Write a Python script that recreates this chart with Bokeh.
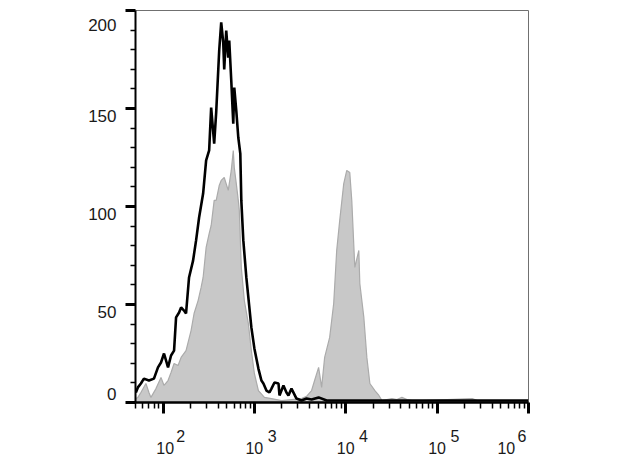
from bokeh.plotting import figure
from bokeh.models import FixedTicker, Range1d
from bokeh.embed import file_html
from bokeh.resources import INLINE

# ---------------- data ----------------
# log10 fluorescence intensity and event counts
black_log_intensity = [1.703, 1.725, 1.758, 1.791, 1.846, 1.901, 1.945, 1.978, 2.011, 2.055,
                       2.088, 2.121, 2.143, 2.176, 2.198, 2.230, 2.252, 2.285, 2.329, 2.362,
                       2.395, 2.439, 2.472, 2.505, 2.527, 2.560, 2.582, 2.615, 2.637, 2.659,
                       2.670, 2.692, 2.714, 2.725, 2.747, 2.769, 2.780, 2.802, 2.824, 2.846,
                       2.857, 2.879, 2.912, 2.945, 2.967, 3.000, 3.044, 3.077, 3.099, 3.132,
                       3.165, 3.187, 3.220, 3.264, 3.275, 3.318, 3.351, 3.373, 3.406, 3.461,
                       3.516, 3.571, 3.626, 3.703, 3.791, 3.95, 4.2, 4.5, 4.8, 5.2, 5.6, 6.0]
black_counts = [5.1, 7.7, 9.7, 12.2, 11.2, 12.2, 17.9, 20.4, 25.0, 17.9,
                24.0, 26.5, 43.4, 45.9, 48.5, 46.9, 45.4, 63.8, 72.4, 82.7,
                94.4, 106.6, 123.5, 128.6, 150.5, 132.1, 148.0, 179.6, 193.9, 183.7,
                169.9, 189.8, 176.0, 184.7, 164.3, 142.3, 160.7, 148.9, 135.2, 127.0,
                103.1, 82.7, 63.8, 48.5, 38.3, 27.6, 17.3, 11.2, 9.7, 6.1,
                5.1, 7.1, 10.2, 9.7, 3.6, 8.7, 5.1, 3.6, 7.1, 2.0,
                1.0, 2.0, 1.5, 2.6, 1.0, 1.0, 1.0, 1.0, 1.0, 1.0, 1.0, 1.0]

gray_log_intensity = [1.703, 1.725, 1.758, 1.813, 1.846, 1.868, 1.923, 1.978, 2.011, 2.055,
                      2.088, 2.121, 2.165, 2.198, 2.252, 2.307, 2.340, 2.384, 2.417, 2.439,
                      2.472, 2.505, 2.527, 2.560, 2.582, 2.615, 2.637, 2.670, 2.714, 2.747,
                      2.769, 2.780, 2.802, 2.824, 2.835, 2.857, 2.890, 2.934, 2.967, 3.000,
                      3.044, 3.110, 3.187, 3.297, 3.406, 3.516, 3.571, 3.626, 3.659, 3.703,
                      3.736, 3.769, 3.824, 3.868, 3.901, 3.934, 3.978, 4.011, 4.044, 4.066,
                      4.099, 4.143, 4.154, 4.198, 4.231, 4.264, 4.319, 4.363, 4.396, 4.505,
                      4.560, 4.615, 4.670, 4.725, 4.835, 5.384, 5.440, 6.0]
gray_counts = [2.0, 2.6, 5.1, 9.7, 5.1, 2.6, 7.1, 12.8, 8.7, 11.2,
               15.3, 19.9, 18.9, 23.0, 26.5, 36.7, 45.4, 52.0, 58.7, 63.8,
               79.1, 86.2, 90.3, 103.1, 103.1, 110.7, 113.3, 114.8, 108.2, 118.4,
               128.6, 119.9, 111.7, 103.1, 98.0, 68.9, 52.0, 40.3, 26.5, 14.8,
               6.1, 2.6, 2.0, 1.0, 1.5, 2.0, 3.1, 6.1, 11.2, 17.9,
               7.7, 23.0, 33.2, 50.5, 77.6, 92.9, 111.7, 118.4, 117.3, 103.1,
               68.9, 77.6, 60.7, 43.4, 23.0, 9.7, 6.1, 3.6, 1.0, 2.0,
               1.5, 2.6, 1.5, 1.0, 1.0, 2.0, 1.0, 1.0]

x_tick_exponents = [2, 3, 4, 5, 6]
y_ticks = [0, 50, 100, 150, 200]
y_tick_labels = ["0", "50", "100", "150", "200"]

# ---------------- layout / style ----------------
FONT = "Liberation Sans"
TEXT_COLOR = "#1a1a1a"
NB = "\u00a0"
# padding (non-breaking spaces) that nudges the superscript / base of each x label
sup_pad = [(8, 0), (8, 0), (8, 0), (8, 0), (0, 3)]     # (leading, trailing) for exponent
base_pad = [(1, 0), (0, 0), (0, 0), (0, 0), (0, 10)]   # (leading, trailing) for "10"
# blank lines that nudge each y label up (before) or down (after)
y_pad = [(0, 1), (1, 0), (1, 0), (1, 0), (1, 0)]

black_x = [10 ** v for v in black_log_intensity]
gray_x = [10 ** v for v in gray_log_intensity]

p = figure(width=620, height=465, x_axis_type="log",
           x_range=Range1d(50, 1e6), y_range=Range1d(0, 200),
           output_backend="svg", toolbar_location=None,
           min_border_left=135, min_border_right=92,
           min_border_top=10, min_border_bottom=63)

p.grid.visible = False
p.outline_line_color = "#707070"
p.outline_line_width = 1
p.background_fill_color = "white"
p.border_fill_color = "white"

# gray filled histogram
p.varea(x=gray_x, y1=0, y2=gray_counts, fill_color="#c8c8c8")
p.line(x=gray_x, y=gray_counts, line_color="#ababab", line_width=1.2)
# black outline histogram
p.line(x=black_x, y=black_counts, line_color="black", line_width=2.6)

# axes
minor_x = [m * 10 ** e for e in range(1, 6) for m in range(2, 10) if 50 <= m * 10 ** e <= 1e6]
p.xaxis.ticker = FixedTicker(ticks=[10 ** e for e in x_tick_exponents], minor_ticks=minor_x)
minor_y = [v for v in range(0, 201, 10) if v % 50 != 0]
p.yaxis.ticker = FixedTicker(ticks=y_ticks, minor_ticks=minor_y)

for ax in (p.xaxis, p.yaxis):
    ax.axis_line_color = "black"
    ax.major_tick_line_color = "black"
    ax.minor_tick_line_color = "black"
    ax.major_tick_in = 0
    ax.minor_tick_in = 0
    ax.major_label_text_font = FONT
    ax.major_label_text_color = TEXT_COLOR

p.xaxis.axis_line_width = 2.5
p.xaxis.major_tick_out = 11
p.xaxis.major_tick_line_width = 3
p.xaxis.minor_tick_out = 6
p.xaxis.minor_tick_line_width = 1.5
p.xaxis.major_label_text_font_size = "16px"
p.xaxis.major_label_text_line_height = 0.75
p.xaxis.major_label_standoff = 14
p.xaxis.major_label_overrides = {
    10 ** e: NB * sl + str(e) + NB * st + "\n" + NB * bl + "10" + NB * bt
    for e, (sl, st), (bl, bt) in zip(x_tick_exponents, sup_pad, base_pad)
}

p.yaxis.axis_line_width = 2
p.yaxis.major_tick_out = 10
p.yaxis.major_tick_line_width = 3
p.yaxis.minor_tick_out = 5
p.yaxis.minor_tick_line_width = 1.5
p.yaxis.major_label_text_font_size = "17px"
p.yaxis.major_label_text_line_height = 0.8
p.yaxis.major_label_text_baseline = "middle"
p.yaxis.major_label_standoff = 9
p.yaxis.major_label_overrides = {
    v: (NB + "\n") * before + t + ("\n" + NB) * after
    for v, t, (before, after) in zip(y_ticks, y_tick_labels, y_pad)
}

open("out.html", "w").write(file_html(p, INLINE))
